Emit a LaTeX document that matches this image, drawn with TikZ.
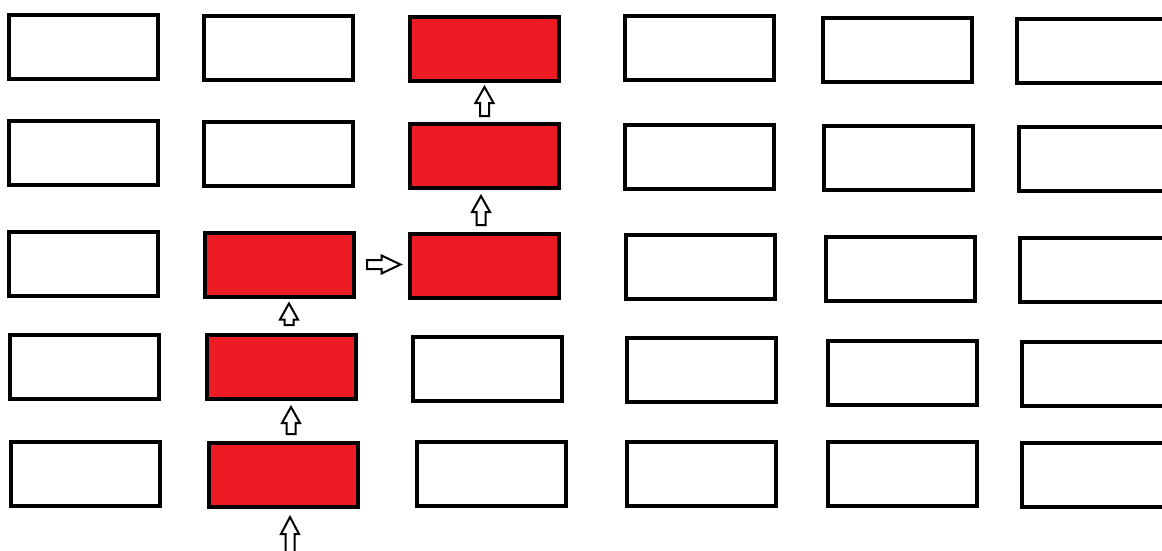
\documentclass[tikz,border=0pt]{standalone}
\usetikzlibrary{calc}
\definecolor{paintred}{RGB}{237,28,36}
\tikzset{
  box/.style={draw=black, line width=4pt, rectangle, inner sep=0pt,
    minimum width=149pt, minimum height=64pt, fill=white},
  hot/.style={box, fill=paintred},
  barrow/.style={draw=black, fill=white, line width=2pt, line join=miter},
  blockarrow/.style n args={3}{to path={
    let \p1=(\tikztostart), \p2=(\tikztotarget),
        \n1={atan2(\y2-\y1,\x2-\x1)},
        \n2={veclen(\x2-\x1,\y2-\y1)}
    in
       ([shift={(\p1)},rotate=\n1]#1,4.5pt)
    -- ([shift={(\p1)},rotate=\n1]{\n2*1pt-#2-#3},4.5pt)
    -- ([shift={(\p1)},rotate=\n1]{\n2*1pt-#2-#3},9pt)
    -- ([shift={(\p1)},rotate=\n1]{\n2*1pt-#2},0pt)
    -- ([shift={(\p1)},rotate=\n1]{\n2*1pt-#2-#3},-9pt)
    -- ([shift={(\p1)},rotate=\n1]{\n2*1pt-#2-#3},-4.5pt)
    -- ([shift={(\p1)},rotate=\n1]#1,-4.5pt)
    -- cycle
  }}
}
\begin{document}
\begin{tikzpicture}[x=1pt,y=-1pt]
\useasboundingbox (0,0) rectangle (1162,551);
\clip (0,0) rectangle (1162,551);
\fill[white] (0,0) rectangle (1162,551);
% column 1
\node[box] (b-1-1) at (83,47.5) {};
\node[box] (b-1-2) at (83.5,153) {};
\node[box] (b-1-3) at (83.5,263.5) {};
\node[box] (b-1-4) at (84.5,367) {};
\node[box] (b-1-5) at (85.5,474) {};
% column 2
\node[box] (b-2-1) at (278.5,48) {};
\node[box] (b-2-2) at (278.5,154) {};
\node[hot] (b-2-3) at (279.5,264.5) {};
\node[hot] (b-2-4) at (281.5,367) {};
\node[hot] (b-2-5) at (283,475) {};
% column 3
\node[hot] (b-3-1) at (484.5,49) {};
\node[hot] (b-3-2) at (484.5,156) {};
\node[hot] (b-3-3) at (484,266) {};
\node[box] (b-3-4) at (487,368.5) {};
\node[box] (b-3-5) at (491,474) {};
% column 4
\node[box] (b-4-1) at (699,48.5) {};
\node[box] (b-4-2) at (699,157) {};
\node[box] (b-4-3) at (700,267) {};
\node[box] (b-4-4) at (701,370) {};
\node[box] (b-4-5) at (701,473.5) {};
% column 5
\node[box] (b-5-1) at (897,50) {};
\node[box] (b-5-2) at (898.5,158) {};
\node[box] (b-5-3) at (900.5,269) {};
\node[box] (b-5-4) at (902,373) {};
\node[box] (b-5-5) at (902,473.5) {};
% column 6
\node[box] (b-6-1) at (1091,51) {};
\node[box] (b-6-2) at (1093,158.5) {};
\node[box] (b-6-3) at (1094,270) {};
\node[box] (b-6-4) at (1096,374) {};
\node[box] (b-6-5) at (1096,474.5) {};
% arrows
\coordinate (src) at (290,565);
\draw[barrow] (src) to[blockarrow={0pt}{8pt}{17pt}] (src |- b-2-5.south);
\draw[barrow] ([xshift=8pt]b-2-5.north) to[blockarrow={7pt}{6pt}{16pt}] ([xshift=9.5pt]b-2-4.south);
\draw[barrow] ([xshift=7.5pt]b-2-4.north) to[blockarrow={8pt}{5pt}{16pt}] ([xshift=9.5pt]b-2-3.south);
\draw[barrow] (b-2-3.east) to[blockarrow={11pt}{7pt}{19pt}] (b-2-3.east -| b-3-3.west);
\draw[barrow] ([xshift=-3pt]b-3-3.north) to[blockarrow={7pt}{6pt}{16pt}] ([xshift=-3.5pt]b-3-2.south);
\draw[barrow] (b-3-2.north) to[blockarrow={6pt}{4pt}{16pt}] (b-3-1.south);
\end{tikzpicture}
\end{document}
